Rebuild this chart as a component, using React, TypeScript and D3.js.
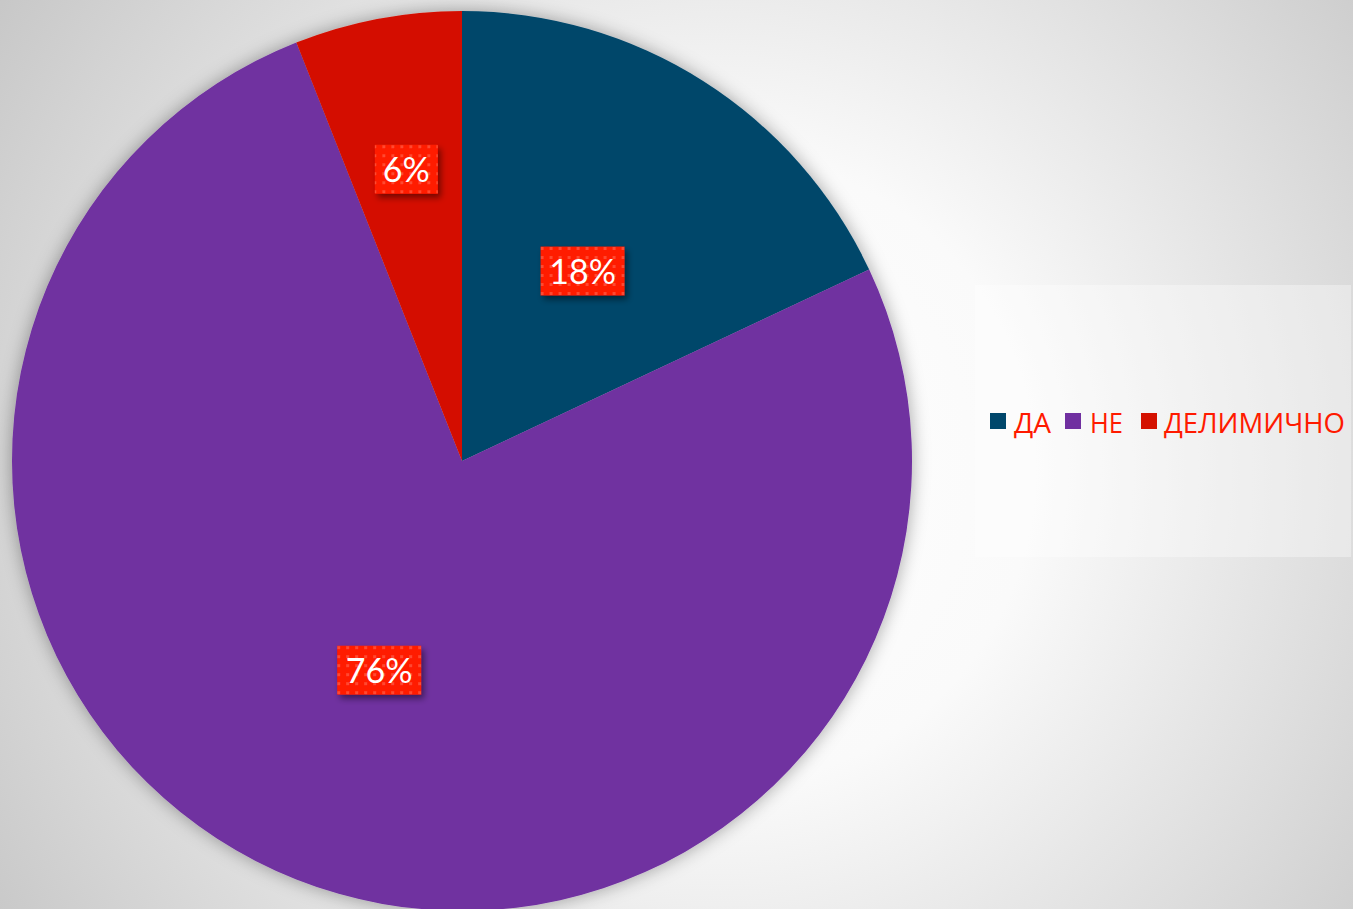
import React from "react";
import * as d3 from "d3";

const categories = ["ДА", "НЕ", "ДЕЛИМИЧНО"];
const values = [18, 76, 6];
const labels = ["18%", "76%", "6%"];
const colors = ["#00476b", "#7030a0", "#d41100"];
const labelRadiusFrac = [0.5, 0.5, 0.66];

const W = 1353;
const H = 909;
const cx = 462;
const cy = 461;
const R = 450;

export default function App() {
  const pie = d3.pie<number>().sort(null).value((d) => d)(values);
  const arc = d3.arc<d3.PieArcDatum<number>>().innerRadius(0).outerRadius(R);

  const legendX = [990, 1065, 1141];
  const legendTextX = [1014, 1090, 1164];
  const legendTextW = [37, 33, 181];

  return (
    <>
      <style>{`body{margin:0}`}</style>
      <svg width={W} height={H} style={{ display: "block" }}>
        <defs>
          <radialGradient id="bg" cx="720" cy="470" r="900" gradientUnits="userSpaceOnUse">
            <stop offset="0" stopColor="#ffffff" />
            <stop offset="0.35" stopColor="#fafafa" />
            <stop offset="1" stopColor="#c4c4c4" />
          </radialGradient>
          <filter id="pieShadow" x="-20%" y="-20%" width="140%" height="140%">
            <feDropShadow dx="0" dy="0" stdDeviation="9" floodColor="#000" floodOpacity="0.35" />
          </filter>
          <filter id="lblShadow" x="-30%" y="-30%" width="160%" height="160%">
            <feDropShadow dx="3" dy="4" stdDeviation="3" floodColor="#000" floodOpacity="0.45" />
          </filter>
          <pattern id="dots" width="9" height="9" patternUnits="userSpaceOnUse">
            <rect width="9" height="9" fill="#ff1a00" />
            <rect x="3" y="3" width="3" height="3" fill="#ff4a30" />
          </pattern>
        </defs>
        <rect width={W} height={H} fill="url(#bg)" />
        <rect x={975} y={285} width={376} height={272} fill="#ffffff" opacity={0.35} />
        <g transform={`translate(${cx},${cy})`}>
          <g filter="url(#pieShadow)">
            {pie.map((p, i) => (
              <path key={i} d={arc(p) || ""} fill={colors[i]} />
            ))}
          </g>
          {pie.map((p, i) => {
            const r = R * labelRadiusFrac[i];
            const a = (p.startAngle + p.endAngle) / 2;
            const x = Math.sin(a) * r;
            const y = -Math.cos(a) * r;
            const w = labels[i].length === 2 ? 63 : 84;
            const h = 49;
            return (
              <g key={"l" + i} transform={`translate(${x},${y})`}>
                <rect x={-w / 2} y={-h / 2} width={w} height={h} fill="url(#dots)" filter="url(#lblShadow)" />
                <text
                  x={0}
                  y={13}
                  textAnchor="middle"
                  fill="#ffffff"
                  fontFamily="Lato, 'Open Sans', sans-serif"
                  fontSize={34}
                >
                  {labels[i]}
                </text>
              </g>
            );
          })}
        </g>
        {categories.map((c, i) => (
          <g key={"lg" + i}>
            <rect x={legendX[i]} y={413} width={16} height={16} fill={colors[i]} />
            <text
              x={legendTextX[i]}
              y={433}
              fill="#ff1a00"
              fontFamily="'Open Sans', 'Noto Sans', sans-serif"
              fontSize={28}
              textLength={legendTextW[i]}
              lengthAdjust="spacingAndGlyphs"
            >
              {c}
            </text>
          </g>
        ))}
      </svg>
    </>
  );
}
